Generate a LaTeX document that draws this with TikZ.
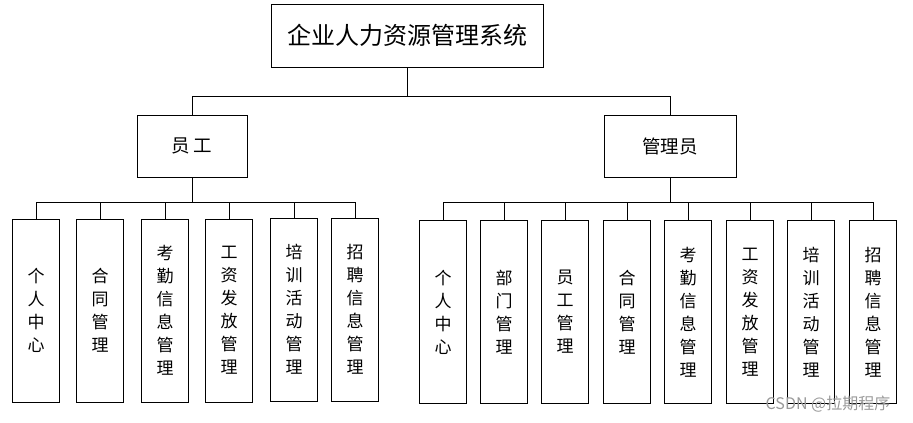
\documentclass[tikz,border=0pt]{standalone}
\usepackage{fontspec}
\setmainfont{Noto Sans CJK SC}
\usepackage{tikz}

\tikzset{
  topbox/.style={draw,line width=1pt,inner sep=0pt,minimum width=272pt,minimum height=63pt,font=\fontsize{24}{27}\selectfont},
  rolebox/.style={draw,line width=1pt,inner sep=0pt,minimum height=62pt,font=\fontsize{18.5}{22}\selectfont},
  leafbox/.style={draw,line width=1pt,inner sep=0pt,minimum width=47pt,minimum height=183pt,align=center,font=\fontsize{17}{23}\selectfont},
  link/.style={line width=0.9pt}
}

\begin{document}
\begin{tikzpicture}[x=1pt,y=-1pt]
\useasboundingbox (0,0) rectangle (913,423);

\node[topbox] (sys) at (407,35.5) {企业人力资源管理系统};
\node[rolebox,minimum width=110pt] (emp) at (192,146) {员\,工};
\node[rolebox,minimum width=132pt] (adm) at (670,146) {管理员};

\coordinate (sysbus) at (407,96);
\coordinate (empbus) at (192,202);
\coordinate (admbus) at (670,202);

\draw[link] (sys.south) -- (sysbus);
\draw[link] (sysbus) -| (emp.north);
\draw[link] (sysbus) -| (adm.north);
\draw[link] (emp.south) -- (empbus);
\draw[link] (adm.south) -- (admbus);

\node[leafbox] (e1) at (36,310.5) {个\\人\\中\\心};
\node[leafbox] (e2) at (100,310.5) {合\\同\\管\\理};
\node[leafbox] (e3) at (165,310.5) {考\\勤\\信\\息\\管\\理};
\node[leafbox] (e4) at (229,310.5) {工\\资\\发\\放\\管\\理};
\node[leafbox] (e5) at (294,309.5) {培\\训\\活\\动\\管\\理};
\node[leafbox] (e6) at (355,309.5) {招\\聘\\信\\息\\管\\理};

\node[leafbox] (a1) at (443,312) {个\\人\\中\\心};
\node[leafbox] (a2) at (504,312) {部\\门\\管\\理};
\node[leafbox] (a3) at (565,312) {员\\工\\管\\理};
\node[leafbox] (a4) at (627,312) {合\\同\\管\\理};
\node[leafbox] (a5) at (688,312) {考\\勤\\信\\息\\管\\理};
\node[leafbox] (a6) at (750,312) {工\\资\\发\\放\\管\\理};
\node[leafbox] (a7) at (811,312) {培\\训\\活\\动\\管\\理};
\node[leafbox] (a8) at (873,312) {招\\聘\\信\\息\\管\\理};

\draw[link] (empbus) -| (e1.north);
\draw[link] (empbus) -| (e2.north);
\draw[link] (empbus) -| (e3.north);
\draw[link] (empbus) -| (e4.north);
\draw[link] (empbus) -| (e5.north);
\draw[link] (empbus) -| (e6.north);

\draw[link] (admbus) -| (a1.north);
\draw[link] (admbus) -| (a2.north);
\draw[link] (admbus) -| (a3.north);
\draw[link] (admbus) -| (a4.north);
\draw[link] (admbus) -| (a5.north);
\draw[link] (admbus) -| (a6.north);
\draw[link] (admbus) -| (a7.north);
\draw[link] (admbus) -| (a8.north);

\node[text=gray!80,font=\fontsize{16}{18}\selectfont] (mark) at (828,404) {CSDN @拉期程序};
\end{tikzpicture}
\end{document}
